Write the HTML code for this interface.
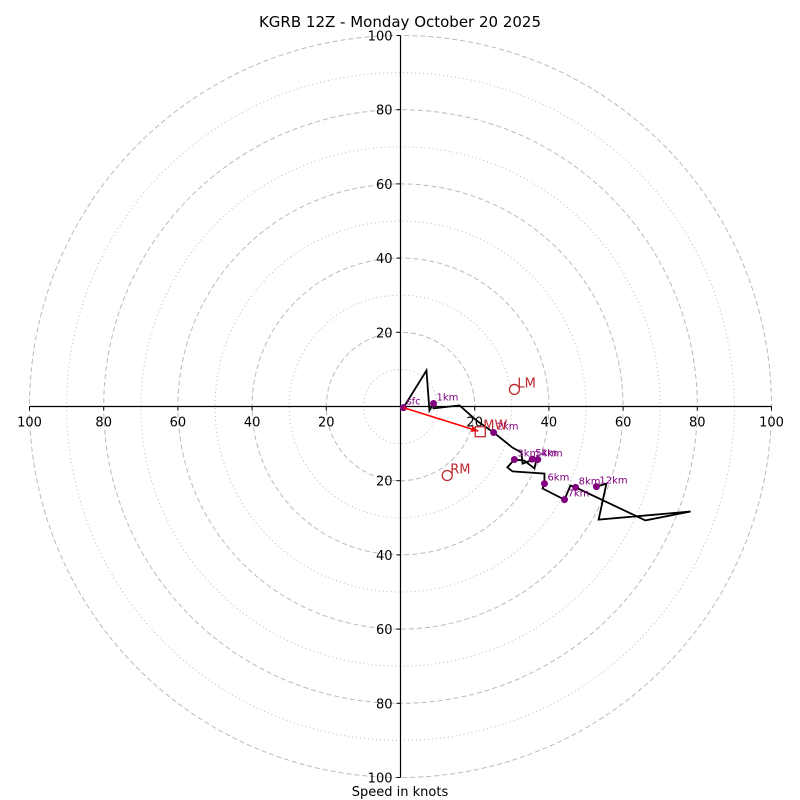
<!DOCTYPE html>
<html><head><meta charset="utf-8"><style>
html,body{margin:0;padding:0;background:#fff;}
svg{display:block;font-family:"DejaVu Sans","Liberation Sans",sans-serif;}
</style></head><body>
<svg id="chart" width="800" height="800" viewBox="0 0 800 800" xmlns="http://www.w3.org/2000/svg">
<rect width="800" height="800" fill="#fff"/>
<text x="400" y="27" text-anchor="middle" font-size="15">KGRB 12Z - Monday October 20 2025</text>
<text x="400" y="796" text-anchor="middle" font-size="13">Speed in knots</text>
<g id="grid"></g><g id="axes"></g><g id="trace"></g><g id="marks"></g>
</svg>
<script>
const ringValues=[10,20,30,40,50,60,70,80,90,100];
const tickValues=[20,40,60,80,100];
const windU=[0.8,7.0,7.8,8.9,8.9,15.9,20.5,25.1,30.2,32.6,32.9,36.7,36.1,33.4,30.7,28.8,30.2,38.8,38.8,38.3,44.2,45.8,47.2,66.0,78.2,53.4,55.5,52.8];
const windV=[-0.3,9.7,-1.1,0.8,-0.5,0.3,-3.8,-7.0,-11.1,-12.4,-15.4,-14.0,-16.7,-14.6,-14.3,-16.4,-17.5,-18.1,-20.8,-22.1,-25.1,-21.3,-21.8,-30.7,-28.3,-30.5,-20.8,-21.6];
const heightLabels=["sfc","","","1km","","","","2km","","","","","","","3km","","","","6km","","7km","","8km","","","","","12km"];
const extraLabels=["5km","4km"];
const extraU=[35.5,37.0];
const extraV=[-14.2,-14.3];
const motionNames=["LM","RM","MW"];
const motionU=[30.7,12.6,21.5];
const motionV=[4.6,-18.6,-6.8];

const NS="http://www.w3.org/2000/svg";
const cx=400.5,cy=406.5,sc=3.71;
const X=u=>cx+u*sc, Y=v=>cy-v*sc;
function mk(tag,attrs,parent){const e=document.createElementNS(NS,tag);for(const k in attrs)e.setAttribute(k,attrs[k]);parent.appendChild(e);return e;}
const grid=document.getElementById('grid'),axes=document.getElementById('axes'),trace=document.getElementById('trace'),marks=document.getElementById('marks');
ringValues.forEach(r=>{
  const c=mk('circle',{cx:cx,cy:cy,r:r*sc,fill:'none',stroke:'#bbb','stroke-width':1,'stroke-dasharray':r%20===0?'5,3':'1,3'},grid);
  
  
});
let l=mk('line',{x1:X(-100),y1:cy,x2:X(100),y2:cy,stroke:'#000','stroke-width':1.2},axes);


l=mk('line',{x1:cx,y1:Y(100),x2:cx,y2:Y(-100),stroke:'#000','stroke-width':1.2},axes);


tickValues.forEach(t=>{
  [-1,1].forEach(s=>{
    mk('line',{x1:X(s*t),y1:cy,x2:X(s*t),y2:cy+4,stroke:'#000'},axes);
    const tx=mk('text',{x:X(s*t),y:cy+20,'text-anchor':'middle','font-size':13},axes);
    tx.textContent=t;
    
    
    mk('line',{x1:cx-4,y1:Y(s*t),x2:cx,y2:Y(s*t),stroke:'#000'},axes);
    const ty=mk('text',{x:cx-8,y:Y(s*t)+5,'text-anchor':'end','font-size':13},axes);
    ty.textContent=t;
    
    
  });
});
const pl=mk('polyline',{points:windU.map((u,i)=>X(u)+','+Y(windV[i])).join(' '),fill:'none',stroke:'#000','stroke-width':1.8,'stroke-linejoin':'miter'},trace);


heightLabels.forEach((h,i)=>{
  if(!h)return;
  const d=mk('circle',{cx:X(windU[i]),cy:Y(windV[i]),r:3.5,fill:'purple'},marks);
  
  
  const t=mk('text',{x:X(windU[i])+3,y:Y(windV[i])-3,'font-size':10,fill:'purple'},marks);
  t.textContent=h;
  
  
});
extraLabels.forEach((h,i)=>{
  const d=mk('circle',{cx:X(extraU[i]),cy:Y(extraV[i]),r:3.5,fill:'purple'},marks);
  
  
  const t=mk('text',{x:X(extraU[i])+3,y:Y(extraV[i])-3,'font-size':10,fill:'purple'},marks);
  t.textContent=h;
  
  
});
const ax=X(motionU[2]),ay=Y(motionV[2]),sx=X(windU[0]),sy=Y(windV[0]);
const ang=Math.atan2(ay-sy,ax-sx);
const ar=mk('line',{x1:sx,y1:sy,x2:ax-2*Math.cos(ang),y2:ay-2*Math.sin(ang),stroke:'red','stroke-width':1.6},marks);


const hx=ax-2*Math.cos(ang),hy=ay-2*Math.sin(ang);
mk('polygon',{points:[hx,hy,hx-7*Math.cos(ang)+3*Math.sin(ang),hy-7*Math.sin(ang)-3*Math.cos(ang),hx-7*Math.cos(ang)-3*Math.sin(ang),hy-7*Math.sin(ang)+3*Math.cos(ang)].join(' '),fill:'red'},marks);
motionNames.forEach((n,i)=>{
  const x=X(motionU[i]),y=Y(motionV[i]);
  let m;
  if(n==='MW') m=mk('rect',{x:x-5,y:y-5,width:10,height:10,fill:'none',stroke:'#c0262d','stroke-width':1.3},marks);
  else m=mk('circle',{cx:x,cy:y,r:5,fill:'none',stroke:'#c0262d','stroke-width':1.3},marks);
  
  
  const t=mk('text',{x:x+3,y:y-2,'font-size':13,fill:'#c0262d'},marks);
  t.textContent=n;
  
  
});
</script>
</body></html>
